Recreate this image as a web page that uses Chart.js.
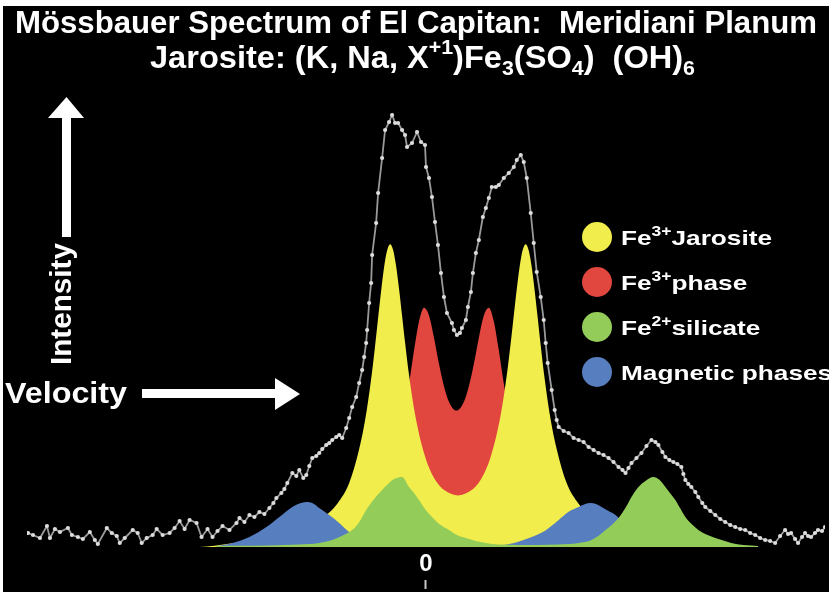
<!DOCTYPE html>
<html>
<head>
<meta charset="utf-8">
<title>Mössbauer Spectrum of El Capitan</title>
<script src="https://cdn.jsdelivr.net/npm/chart.js@4.4.1/dist/chart.umd.min.js"></script>
<style>
  html, body { margin: 0; padding: 0; background: #fff; }
  canvas { display: block; }
</style>
</head>
<body>
<canvas id="spectrum-chart" width="829" height="592"></canvas>
<script>
// measured spectrum (velocity in mm/s, intensity in relative units)
var velocity = [-3.99, -3.94, -3.87, -3.80, -3.77, -3.72, -3.67, -3.59, -3.55, -3.49, -3.44, -3.37, -3.32, -3.29,
  -3.20, -3.15, -3.10, -3.07, -3.02, -2.94, -2.89, -2.85, -2.80, -2.74, -2.70, -2.64, -2.57, -2.52, -2.47, -2.42,
  -2.37, -2.30, -2.25, -2.19, -2.14, -2.09, -2.04, -1.97, -1.90, -1.87, -1.82, -1.77, -1.72, -1.67, -1.62, -1.57,
  -1.53, -1.50, -1.45, -1.42, -1.39, -1.34, -1.30, -1.27, -1.23, -1.20, -1.17, -1.14, -1.10, -1.07, -1.04, -1.00,
  -0.97, -0.94, -0.90, -0.87, -0.84, -0.80, -0.77, -0.74, -0.70, -0.67, -0.64, -0.62, -0.60, -0.59, -0.57, -0.55,
  -0.54, -0.50, -0.48, -0.44, -0.41, -0.37, -0.34, -0.31, -0.28, -0.24, -0.21, -0.19, -0.14, -0.09, -0.05, -0.01,
  0.00, 0.03, 0.06, 0.09, 0.12, 0.15, 0.18, 0.21, 0.26, 0.28, 0.31, 0.34, 0.36, 0.40, 0.42, 0.45, 0.47, 0.50,
  0.53, 0.57, 0.60, 0.63, 0.66, 0.70, 0.73, 0.78, 0.83, 0.88, 0.91, 0.95, 0.98, 1.01, 1.05, 1.08, 1.11, 1.15,
  1.18, 1.20, 1.22, 1.26, 1.29, 1.31, 1.33, 1.38, 1.43, 1.48, 1.53, 1.58, 1.63, 1.68, 1.73, 1.78, 1.83, 1.88,
  1.93, 1.97, 2.00, 2.03, 2.06, 2.11, 2.16, 2.21, 2.26, 2.30, 2.33, 2.37, 2.40, 2.44, 2.48, 2.52, 2.56, 2.58,
  2.60, 2.63, 2.66, 2.70, 2.73, 2.77, 2.80, 2.85, 2.90, 2.95, 3.00, 3.05, 3.10, 3.15, 3.20, 3.25, 3.30, 3.35,
  3.40, 3.45, 3.50, 3.55, 3.60, 3.63, 3.66, 3.70, 3.73, 3.77, 3.80, 3.83, 3.86, 3.90, 3.93, 3.97, 4.00];
var counts = [3.5, 3.0, 2.25, 5.25, 2.25, 4.5, 3.75, 4.75, 3.0, 2.5, 2.0, 3.75, 1.75, 0.75,
  4.75, 3.5, 2.75, 1.0, 2.25, 4.25, 3.5, 1.0, 2.25, 3.0, 4.5, 3.0, 3.5, 4.75, 6.5, 4.5,
  6.75, 6.0, 2.5, 4.5, 2.5, 4.0, 5.25, 4.25, 6.0, 7.25, 6.25, 8.0, 7.5, 8.75, 8.25, 9.75,
  11.0, 12.25, 13.5, 14.5, 16.0, 18.5, 17.75, 19.25, 17.25, 18.0, 20.25, 22.25, 22.75, 23.5, 24.5, 25.5,
  26.0, 26.75, 27.5, 28.0, 27.25, 29.75, 32.25, 35.0, 37.5, 41.0, 44.25, 47.5, 51.0, 54.25, 61.0, 66.0,
  73.0, 81.0, 88.5, 97.25, 104.25, 106.25, 108.0, 106.0, 106.0, 104.25, 103.0, 100.0, 101.0, 103.75, 101.25, 100.5,
  95.0, 92.25, 87.5, 81.25, 75.5, 68.5, 62.5, 58.5, 56.0, 54.25, 53.0, 53.5, 54.75, 56.75, 60.0, 63.75, 68.5, 73.5,
  76.75, 82.5, 84.75, 87.25, 90.0, 90.0, 90.5, 92.25, 93.5, 95.0, 96.75, 98.0, 96.25, 92.25, 83.5, 76.0, 68.75, 62.5,
  56.75, 51.0, 46.0, 39.25, 34.25, 31.75, 30.0, 29.0, 28.5, 27.25, 26.75, 26.25, 25.0, 24.25, 23.5, 23.0, 22.25, 21.25,
  20.0, 19.25, 18.5, 19.75, 21.0, 22.25, 23.5, 25.25, 26.75, 26.25, 25.5, 23.75, 22.5, 21.75, 21.25, 20.75, 20.0, 18.25,
  16.75, 15.75, 15.0, 13.75, 12.5, 11.0, 10.0, 9.0, 8.0, 7.0, 6.25, 5.5, 5.0, 4.5, 4.25, 3.5, 3.0, 2.25,
  1.75, 1.5, 1.0, 2.75, 4.25, 3.25, 3.5, 2.0, 1.0, 2.5, 3.5, 2.75, 2.5, 3.5, 4.25, 4.0, 5.0];

// fitted subspectra
var jarositeV = [-2.27, -2.12, -1.87, -1.62, -1.37, -1.17, -0.97, -0.87, -0.77, -0.67, -0.61, -0.55, -0.51, -0.48,
  -0.45, -0.42, -0.39, -0.36, -0.33, -0.30, -0.27, -0.24, -0.21, -0.17, -0.11, -0.01, 0.09, 0.19, 0.32,
  0.45, 0.55, 0.65, 0.75, 0.81, 0.85, 0.88, 0.91, 0.94, 0.97, 1.00, 1.03, 1.06, 1.09, 1.12, 1.15, 1.19,
  1.25, 1.31, 1.41, 1.51, 1.61, 1.81, 2.01, 2.26, 2.51, 2.76, 2.93];
var jarositeI = [0, 0.3, 1.2, 2.0, 3.4, 5.2, 8.6, 11.5, 16.0, 24.5, 31.8, 42.0, 50.4, 57.3,
  64.0, 70.0, 74.1, 75.7, 74.3, 70.3, 64.5, 57.9, 51.2, 43.0, 33.2, 22.7, 16.9, 14.1, 12.9,
  14.1, 16.9, 22.7, 33.2, 43.0, 51.2, 57.9, 64.5, 70.3, 74.3, 75.7, 74.1, 70.0, 64.0, 57.3, 50.4, 42.0,
  31.8, 24.5, 16.0, 11.5, 8.6, 5.2, 3.4, 2.0, 1.2, 0.3, 0];

var ferricV = [-0.32, -0.22, -0.17, -0.12, -0.07, -0.02, 0.03, 0.08, 0.13, 0.18, 0.23, 0.305,
  0.38, 0.43, 0.48, 0.53, 0.58, 0.63, 0.68, 0.73, 0.78, 0.83, 0.93];
var ferricI = [0, 33.1, 40.8, 49.2, 56.4, 59.8, 57.9, 52.4, 45.8, 40.2, 36.3, 34.1,
  36.3, 40.2, 45.8, 52.4, 57.9, 59.8, 56.4, 49.2, 40.8, 33.1, 0];

var silicateV = [-2.10, -1.87, -1.57, -1.27, -1.07, -0.94, -0.84, -0.74, -0.67, -0.60, -0.52, -0.44, -0.37, -0.31,
  -0.24, -0.17, -0.12, -0.07, -0.01, 0.06, 0.14, 0.23, 0.31, 0.40, 0.50, 0.60, 0.73, 0.93, 1.13, 1.33,
  1.53, 1.66, 1.73, 1.80, 1.87, 1.93, 2.00, 2.06, 2.13, 2.20, 2.28, 2.34, 2.40, 2.45, 2.50, 2.55, 2.60,
  2.66, 2.73, 2.81, 2.90, 2.98, 3.06, 3.18, 3.33];
var silicateI = [0.25, 0.3, 0.4, 0.6, 1.0, 1.75, 2.8, 4.25, 6.2, 9.25, 12.0, 14.25, 16.0, 17.1,
  17.5, 15.0, 13.5, 11.75, 9.5, 7.5, 5.6, 4.25, 3.0, 2.25, 1.5, 1.0, 0.6, 0.5, 0.5, 0.6,
  1.0, 1.75, 2.8, 4.25, 5.7, 7.25, 9.8, 12.5, 15.0, 16.5, 17.5, 16.8, 15.0, 13.4, 11.75, 9.6, 7.5,
  5.8, 4.25, 3.1, 2.25, 1.6, 1.0, 0.5, 0.25];

var magneticV = [-2.10, -1.94, -1.77, -1.60, -1.47, -1.34, -1.27, -1.20, -1.13, -1.07, -0.97, -0.87, -0.77,
  -0.67, -0.57, -0.42, -0.27, 0.33, 0.76, 0.91, 1.06, 1.19, 1.33, 1.43, 1.53, 1.59, 1.65, 1.71, 1.76,
  1.83, 1.90, 1.98, 2.08, 2.18, 2.33, 2.53, 2.73];
var magneticI = [0.2, 1.0, 2.5, 5.0, 7.5, 10.0, 10.9, 11.25, 10.9, 9.75, 8.0, 6.0, 3.75,
  2.3, 1.4, 0.7, 0.4, 0.3, 0.5, 1.2, 2.5, 4.0, 6.75, 8.8, 10.0, 10.7, 11.0, 10.7, 10.0,
  9.0, 8.0, 6.0, 4.0, 2.5, 1.2, 0.4, 0];

var tickValues = [0];

var legendLabels = [
  { ion: 'Fe', charge: '3+', name: 'Jarosite' },
  { ion: 'Fe', charge: '3+', name: 'phase' },
  { ion: 'Fe', charge: '2+', name: 'silicate' },
  { ion: '', charge: '', name: 'Magnetic phases' }
];
var legendColors = ['#f1ed4c', '#e1473f', '#94cc5a', '#577ebf'];

var FONT = '"Liberation Sans", Arial, Helvetica, sans-serif';

function toPoints(xs, ys) {
  return xs.map(function(x, i) { return { x: x, y: ys[i] }; });
}

// draws a row of text pieces [text, size, shift], squeezed or stretched to a width
function drawRuns(ctx, runs, x, y, width, scaleX) {
  var total = 0;
  runs.forEach(function(r) {
    ctx.font = 'bold ' + r[1] + 'px ' + FONT;
    total += ctx.measureText(r[0]).width;
  });
  var sx = scaleX || (width ? width / total : 1);
  ctx.save();
  ctx.translate(x, y);
  ctx.scale(sx, 1);
  var cx = 0;
  runs.forEach(function(r) {
    ctx.font = 'bold ' + r[1] + 'px ' + FONT;
    ctx.fillText(r[0], cx, r[2]);
    cx += ctx.measureText(r[0]).width;
  });
  ctx.restore();
  return sx;
}

var backdrop = {
  id: 'backdrop',
  beforeDraw: function(chart) {
    var ctx = chart.ctx;
    ctx.save();
    ctx.fillStyle = '#fff';
    ctx.fillRect(0, 0, chart.width, chart.height);
    ctx.fillStyle = '#000';
    ctx.fillRect(3, 6, chart.width - 3, chart.height - 6);
    ctx.restore();
  }
};

var decorations = {
  id: 'decorations',
  afterDraw: function(chart) {
    var ctx = chart.ctx;
    ctx.save();
    ctx.fillStyle = '#fff';
    ctx.textBaseline = 'alphabetic';

    // title
    drawRuns(ctx, [['Mössbauer Spectrum of El Capitan:  Meridiani Planum', 32, 0]], 15, 33, 802);
    drawRuns(ctx, [
      ['Jarosite: (K, Na, X', 32, 0], ['+1', 21, -14], [')Fe', 32, 0], ['3', 21, 7],
      ['(SO', 32, 0], ['4', 21, 7], [')  (OH)', 32, 0], ['6', 21, 7]
    ], 150, 68, 545);

    // intensity arrow
    ctx.fillRect(62, 118, 9, 119);
    ctx.beginPath();
    ctx.moveTo(48, 118);
    ctx.lineTo(84, 118);
    ctx.lineTo(66.5, 97);
    ctx.closePath();
    ctx.fill();
    ctx.save();
    ctx.translate(71, 365);
    ctx.rotate(-Math.PI / 2);
    drawRuns(ctx, [['Intensity', 30, 0]], 0, 0, 122);
    ctx.restore();

    // velocity arrow
    drawRuns(ctx, [['Velocity', 29, 0]], 5, 403, 122);
    ctx.fillRect(142, 389, 135, 9);
    ctx.beginPath();
    ctx.moveTo(275, 378);
    ctx.lineTo(275, 410);
    ctx.lineTo(300, 394);
    ctx.closePath();
    ctx.fill();

    // small mark under the zero label
    var x0 = chart.scales.x.getPixelForValue(0);
    ctx.fillStyle = '#c8c8c8';
    ctx.fillRect(x0 - 1.5, 580, 2, 9);

    // legend
    var sx = null;
    legendLabels.forEach(function(item, i) {
      var cy = 237 + i * 45;
      ctx.fillStyle = legendColors[i];
      ctx.beginPath();
      ctx.arc(597, cy, 15, 0, Math.PI * 2);
      ctx.fill();
      ctx.fillStyle = '#fff';
      var runs = item.ion ? [[item.ion, 21, 0], [item.charge, 14, -9], [item.name, 21, 0]] : [[item.name, 21, 0]];
      var s = drawRuns(ctx, runs, 621, cy + 8, 151, sx);
      if (!sx) sx = s;
    });
    ctx.restore();
  }
};

var ctx = document.getElementById('spectrum-chart').getContext('2d');
var spectrumChart = new Chart(ctx, {
  type: 'line',
  data: {
    datasets: [
      {
        label: 'Spectrum',
        data: toPoints(velocity, counts),
        order: 0,
        borderColor: '#9a9a9a',
        borderWidth: 1.8,
        pointRadius: 2.1,
        pointBackgroundColor: '#dcdcdc',
        pointBorderWidth: 0,
        tension: 0,
        fill: false
      },
      {
        label: 'Fe2+ silicate',
        data: toPoints(silicateV, silicateI),
        order: 1,
        backgroundColor: legendColors[2],
        borderWidth: 0,
        pointRadius: 0,
        cubicInterpolationMode: 'monotone',
        fill: 'origin'
      },
      {
        label: 'Magnetic phases',
        data: toPoints(magneticV, magneticI),
        order: 2,
        backgroundColor: legendColors[3],
        borderWidth: 0,
        pointRadius: 0,
        cubicInterpolationMode: 'monotone',
        fill: 'origin'
      },
      {
        label: 'Fe3+ Jarosite',
        data: toPoints(jarositeV, jarositeI),
        order: 3,
        backgroundColor: legendColors[0],
        borderWidth: 0,
        pointRadius: 0,
        cubicInterpolationMode: 'monotone',
        fill: 'origin'
      },
      {
        label: 'Fe3+ phase',
        data: toPoints(ferricV, ferricI),
        order: 4,
        backgroundColor: legendColors[1],
        borderWidth: 0,
        pointRadius: 0,
        cubicInterpolationMode: 'monotone',
        fill: 'origin'
      }
    ]
  },
  options: {
    responsive: false,
    devicePixelRatio: 1,
    animation: false,
    layout: { padding: { left: 27, right: 2, top: 7, bottom: 0 } },
    plugins: {
      legend: { display: false },
      tooltip: { enabled: false },
      title: { display: false }
    },
    scales: {
      x: {
        type: 'linear',
        min: -4,
        max: 4,
        grid: { display: false, drawTicks: false },
        border: { display: false },
        afterBuildTicks: function(scale) {
          scale.ticks = tickValues.map(function(v) { return { value: v }; });
        },
        afterFit: function(scale) { scale.height = 45; },
        ticks: {
          color: '#fff',
          padding: 3,
          font: { family: FONT, size: 24, weight: 'bold' }
        }
      },
      y: {
        display: false,
        min: 0,
        max: 135
      }
    }
  },
  plugins: [backdrop, decorations]
});
</script>
</body>
</html>
